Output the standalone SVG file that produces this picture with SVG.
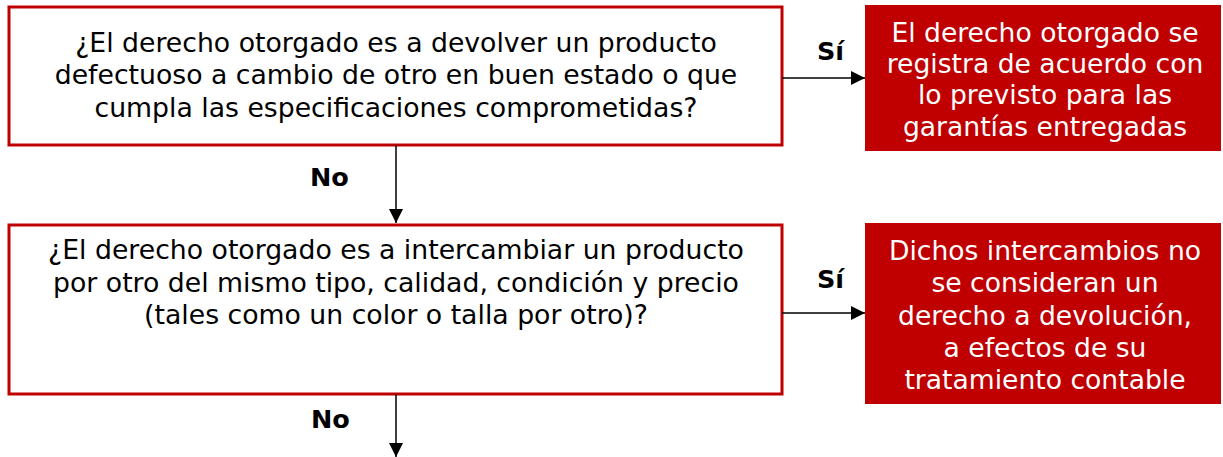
<svg xmlns="http://www.w3.org/2000/svg" width="1223" height="457" viewBox="0 0 1223 457">
<style>
.q{fill:#fff;stroke:#c00000;stroke-width:3}
.r{fill:#c00000}
.t{font-family:"DejaVu Sans",Verdana,sans-serif;font-size:26.7px;text-anchor:middle;fill:#000}
.w{font-family:"DejaVu Sans",Verdana,sans-serif;font-size:26.6px;text-anchor:middle;fill:#fff}
.l{font-family:"DejaVu Sans",Verdana,sans-serif;font-size:25.5px;font-weight:bold;fill:#000}
.c{stroke:#000;stroke-width:1.5;fill:none}
</style>
<defs>
<marker id="ah2" viewBox="0 0 14 14" refX="14" refY="7" markerWidth="14" markerHeight="14" markerUnits="userSpaceOnUse" orient="auto">
<path d="M0,0L14,7L0,14z" fill="#000"/>
</marker>
</defs>
<g id="q1">
<rect class="q" x="9" y="7" width="773" height="138"/>
<text class="t" x="396" y="52">¿El derecho otorgado es a devolver un producto</text>
<text class="t" x="396" y="84">defectuoso a cambio de otro en buen estado o que</text>
<text class="t" x="396" y="117">cumpla las especificaciones comprometidas?</text>
</g>
<g id="r1">
<rect class="r" x="865" y="5" width="356" height="146"/>
<text class="w" x="1045" y="42">El derecho otorgado se</text>
<text class="w" x="1045" y="73">registra de acuerdo con</text>
<text class="w" x="1045" y="104">lo previsto para las</text>
<text class="w" x="1045" y="136">garantías entregadas</text>
</g>
<g id="q2">
<rect class="q" x="9" y="225" width="773" height="169"/>
<text class="t" x="396" y="259">¿El derecho otorgado es a intercambiar un producto</text>
<text class="t" x="396" y="292">por otro del mismo tipo, calidad, condición y precio</text>
<text class="t" x="396" y="324">(tales como un color o talla por otro)?</text>
</g>
<g id="r2">
<rect class="r" x="865" y="223" width="356" height="181"/>
<text class="w" x="1045" y="260">Dichos intercambios no</text>
<text class="w" x="1045" y="292">se consideran un</text>
<text class="w" x="1045" y="325">derecho a devolución,</text>
<text class="w" x="1045" y="357">a efectos de su</text>
<text class="w" x="1045" y="389">tratamiento contable</text>
</g>
<g id="connectors">
<line class="c" x1="782" y1="78" x2="865" y2="78" marker-end="url(#ah2)"/>
<line class="c" x1="782" y1="313" x2="865" y2="313" marker-end="url(#ah2)"/>
<line class="c" x1="396" y1="145" x2="396" y2="223" marker-end="url(#ah2)"/>
<line class="c" x1="396" y1="394" x2="396" y2="457" marker-end="url(#ah2)"/>
<text class="l" x="817" y="60">Sí</text>
<text class="l" x="817" y="288">Sí</text>
<text class="l" x="310" y="186">No</text>
<text class="l" x="311" y="428">No</text>
</g>
</svg>
